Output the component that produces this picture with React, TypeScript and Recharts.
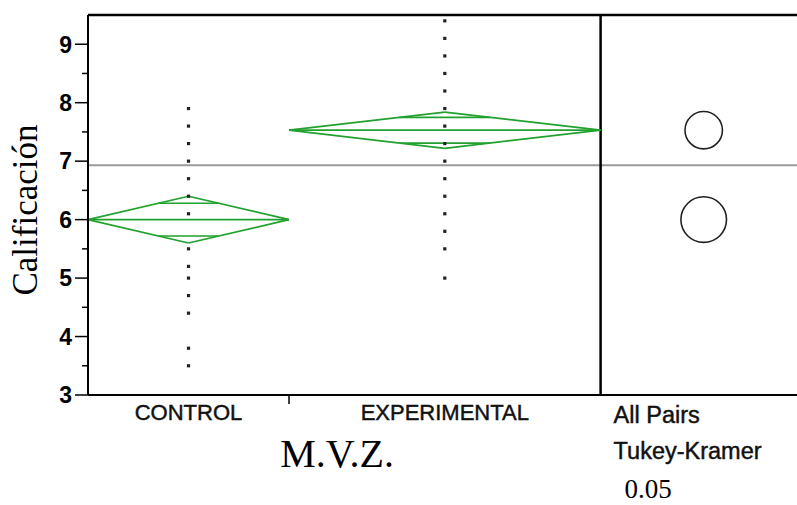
import React from "react";
import {
  ScatterChart,
  Scatter,
  XAxis,
  YAxis,
  ReferenceLine,
  ReferenceDot,
} from "recharts";

// ---- data ----
const categories = ["CONTROL", "EXPERIMENTAL"];
const groupWidths = [1, 1.55];
const groupMeans = [6.0, 7.53];
const ciHalfWidths = [0.4, 0.31];
const overlapMarkHalf = [0.28, 0.22];
const circleRadii = [0.39, 0.32];
const controlScores = [7.9, 7.6, 7.3, 7.0, 6.7, 6.4, 6.1, 5.5, 5.2, 5.0, 4.7, 4.4, 3.8, 3.5];
const experimentalScores = [9.4, 9.1, 8.8, 8.5, 8.2, 7.9, 7.6, 7.3, 7.0, 6.7, 6.4, 6.1, 5.8, 5.5, 5.0];
const grandMean = 6.93;
const yTicks = [3, 3.5, 4, 4.5, 5, 5.5, 6, 6.5, 7, 7.5, 8, 8.5, 9];
const yDomain = [3, 9.5];
const panelWidth = 0.977;
const yTitle = "Calificación";
const xTitle = "M.V.Z.";
const panelLabels = ["All Pairs", "Tukey-Kramer", "0.05"];

// ---- layout ----
const W = 797;
const H = 505;
const M_TOP = 15;
const X_AXIS_H = 110;
const Y_AXIS_W = 88;
const PLOT_H = H - M_TOP - X_AXIS_H;
const pxPerUnit = PLOT_H / (yDomain[1] - yDomain[0]);

const SANS = "'Liberation Sans', Arial, sans-serif";
const SERIF = "'Liberation Serif', 'Times New Roman', serif";
const GREEN = "#21a12e";

const groupStarts: number[] = [];
{
  let acc = 0;
  groupWidths.forEach((w) => {
    groupStarts.push(acc);
    acc += w;
  });
}
const groupCenters = groupStarts.map((s, i) => s + groupWidths[i] / 2);
const groupEnds = groupStarts.map((s, i) => s + groupWidths[i]);
const panelStart = groupEnds[groupEnds.length - 1];
const xMax = panelStart + panelWidth;
const circleX = panelStart + panelWidth * 0.525;
const titleX = panelStart * 0.486;
const boundaries = groupEnds.slice(0, -1);

const scoreSets = [controlScores, experimentalScores];
const scatterData = scoreSets.map((scores, i) =>
  scores.map((v) => ({ x: groupCenters[i], y: v }))
);

const xTicks = [...groupCenters, ...boundaries, panelStart, titleX];

const near = (a: number, b: number) => Math.abs(a - b) < 1e-6;

const labelStyle = {
  fontFamily: SANS,
  fill: "#111",
  stroke: "#111",
  strokeWidth: 0.45,
};

const XTick = (props: any) => {
  const { x, y, payload } = props;
  const v = payload.value;
  const ci = groupCenters.findIndex((c) => near(c, v));
  if (ci >= 0) {
    return (
      <text x={x} y={y + 25} textAnchor="middle" fontSize={22} {...labelStyle}>
        {categories[ci]}
      </text>
    );
  }
  if (boundaries.some((b) => near(b, v))) {
    return <line x1={x} x2={x} y1={y} y2={y + 9} stroke="#000" strokeWidth={1.5} />;
  }
  if (near(v, panelStart)) {
    return (
      <g>
        <text x={x + 13} y={y + 28} fontSize={23.5} {...labelStyle}>
          {panelLabels[0]}
        </text>
        <text x={x + 13} y={y + 64} fontSize={23.5} {...labelStyle}>
          {panelLabels[1]}
        </text>
        <text x={x + 24} y={y + 103} fontFamily={SERIF} fontSize={27} fill="#000">
          {panelLabels[2]}
        </text>
      </g>
    );
  }
  if (near(v, titleX)) {
    return (
      <text x={x} y={y + 72} textAnchor="middle" fontFamily={SERIF} fontSize={40} fill="#000">
        {xTitle}
      </text>
    );
  }
  return null;
};

const YTick = (props: any) => {
  const { x, y, payload } = props;
  const v = payload.value;
  if (Number.isInteger(v)) {
    return (
      <g>
        <line x1={x - 13} x2={x} y1={y} y2={y} stroke="#000" strokeWidth={1.5} />
        <text
          x={x - 16}
          y={y}
          dy="0.36em"
          textAnchor="end"
          fontFamily={SANS}
          fontWeight="bold"
          fontSize={23}
          fill="#000"
        >
          {v}
        </text>
      </g>
    );
  }
  return <line x1={x - 6} x2={x} y1={y} y2={y} stroke="#000" strokeWidth={1.5} />;
};

const YLabel = (props: any) => {
  const vb = props.viewBox || { x: 0, y: M_TOP, width: Y_AXIS_W, height: PLOT_H };
  const cx = vb.x + 37;
  const cy = vb.y + vb.height / 2 + 5;
  return (
    <text
      x={cx}
      y={cy}
      textAnchor="middle"
      transform={`rotate(-90, ${cx}, ${cy})`}
      fontFamily={SERIF}
      fontSize={35}
      fill="#000"
    >
      {yTitle}
    </text>
  );
};

const Dot = (props: any) => {
  const { cx, cy } = props;
  return <rect x={cx - 1.6} y={cy - 1.6} width={3.2} height={3.2} fill="#222" />;
};

export default function App() {
  const diamondSegments: any[] = [];
  categories.forEach((_, i) => {
    const s = groupStarts[i];
    const e = groupEnds[i];
    const c = groupCenters[i];
    const m = groupMeans[i];
    const h = ciHalfWidths[i];
    const o = overlapMarkHalf[i];
    const half = groupWidths[i] / 2;
    const ow = half * (1 - o / h);
    diamondSegments.push([{ x: s, y: m }, { x: c, y: m + h }]);
    diamondSegments.push([{ x: c, y: m + h }, { x: e, y: m }]);
    diamondSegments.push([{ x: e, y: m }, { x: c, y: m - h }]);
    diamondSegments.push([{ x: c, y: m - h }, { x: s, y: m }]);
    diamondSegments.push([{ x: s, y: m }, { x: e, y: m }]);
    diamondSegments.push([{ x: c - ow, y: m + o }, { x: c + ow, y: m + o }]);
    diamondSegments.push([{ x: c - ow, y: m - o }, { x: c + ow, y: m - o }]);
  });

  return (
    <div style={{ position: "absolute", left: 0, top: 0, width: W, height: H, background: "#fff" }}>
      <ScatterChart width={W} height={H} margin={{ top: M_TOP, right: 0, bottom: 0, left: 0 }}>
        <XAxis
          type="number"
          dataKey="x"
          domain={[0, xMax]}
          allowDataOverflow
          ticks={xTicks}
          interval={0}
          tick={<XTick />}
          tickLine={false}
          tickSize={0}
          tickMargin={0}
          height={X_AXIS_H}
          axisLine={{ stroke: "#000", strokeWidth: 2 }}
        />
        <YAxis
          type="number"
          dataKey="y"
          domain={yDomain}
          allowDataOverflow
          ticks={yTicks}
          interval={0}
          tick={<YTick />}
          tickLine={false}
          tickSize={0}
          tickMargin={0}
          width={Y_AXIS_W}
          axisLine={{ stroke: "#000", strokeWidth: 2 }}
          label={<YLabel />}
        />
        <ReferenceLine y={yDomain[1]} stroke="#000" strokeWidth={2.5} ifOverflow="visible" />
        <ReferenceLine y={grandMean} stroke="#9a9a9a" strokeWidth={2} />
        <ReferenceLine x={panelStart} stroke="#000" strokeWidth={2.5} />
        {diamondSegments.map((seg, k) => (
          <ReferenceLine
            key={"d" + k}
            segment={seg}
            stroke={GREEN}
            strokeWidth={1.7}
            ifOverflow="visible"
          />
        ))}
        {scatterData.map((d, i) => (
          <Scatter key={"s" + i} data={d} shape={<Dot />} isAnimationActive={false} />
        ))}
        {groupMeans.map((m, i) => (
          <ReferenceDot
            key={"c" + i}
            x={circleX}
            y={m}
            r={circleRadii[i] * pxPerUnit}
            fill="none"
            stroke="#222"
            strokeWidth={1.6}
            ifOverflow="visible"
          />
        ))}
      </ScatterChart>
    </div>
  );
}
